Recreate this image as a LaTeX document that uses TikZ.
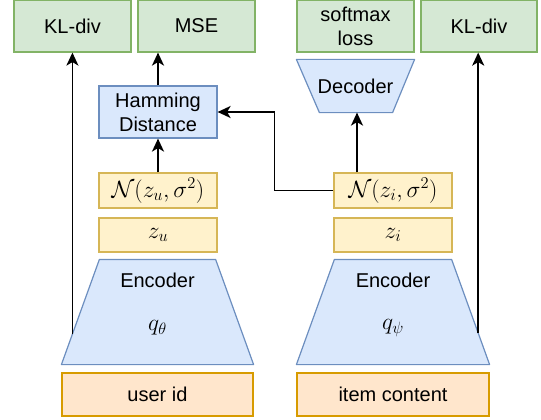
\RequirePackage{fix-cm}
\documentclass[tikz,border=0pt]{standalone}
\usepackage{fontspec}
\setmainfont{Liberation Sans}
\usetikzlibrary{arrows.meta,calc}
\definecolor{gfill}{HTML}{D5E8D4}\definecolor{gdraw}{HTML}{82B366}
\definecolor{bfill}{HTML}{DAE8FC}\definecolor{bdraw}{HTML}{6C8EBF}
\definecolor{yfill}{HTML}{FFF2CC}\definecolor{ydraw}{HTML}{D6B656}
\definecolor{ofill}{HTML}{FFE6CC}\definecolor{odraw}{HTML}{D79B00}
\begin{document}
\begin{tikzpicture}[x=1pt,y=-1pt,
  base/.style={rectangle,inner sep=0pt,line width=1.2pt,align=center,
    font=\fontsize{20}{24}\selectfont},
  loss/.style={base,draw=gdraw,fill=gfill,minimum width=117pt,minimum height=52pt},
  bluebox/.style={base,draw=bdraw,fill=bfill},
  gauss/.style={base,draw=ydraw,fill=yfill,minimum width=118pt,minimum height=35pt,
    font=\fontsize{23.5}{26}\selectfont},
  latent/.style={gauss,minimum height=34pt},
  inbox/.style={base,draw=odraw,fill=ofill,minimum width=192pt,minimum height=43pt},
  ghost/.style={base,minimum width=192pt,minimum height=104pt},
  trap/.style={draw=bdraw,fill=bfill,line width=1.2pt,line join=round},
  lbl/.style={inner sep=0pt,font=\fontsize{20}{24}\selectfont},
  mlbl/.style={inner sep=0pt,font=\fontsize{23.5}{26}\selectfont},
  conn/.style={line width=1.8pt,-{Stealth[length=13pt,width=12pt,inset=3.5pt]}},
  wire/.style={line width=1.8pt}
]
\useasboundingbox (0,0) rectangle (541,420);

% top loss boxes
\node[loss] (kl1) at (72.5,26) {KL-div};
\node[loss] (mse) at (196.5,26) {MSE};
\node[loss] (soft) at (355.5,26) {softmax\\loss};
\node[loss,minimum width=116pt] (kl2) at (479,26) {KL-div};

% hamming
\node[bluebox,minimum width=118pt,minimum height=52pt] (ham) at (158,112) {Hamming\\Distance};

% decoder (inverted trapezoid)
\node[base,minimum width=117pt,minimum height=52pt] (dec) at (355.5,86) {};
\draw[trap] (dec.north west) -- (dec.north east) -- ([xshift=-22pt]dec.south east) -- ([xshift=23pt]dec.south west) -- cycle;
\node[lbl] (dect) at (dec.center) {Decoder};

% gaussians and latents
\node[gauss] (nu) at (158,190.5) {$\mathcal{N}(z_u,\sigma^2)$};
\node[latent] (zu) at (158,235) {$z_u$};
\node[gauss] (ni) at (393,190.5) {$\mathcal{N}(z_i,\sigma^2)$};
\node[latent] (zi) at (393,235) {$z_i$};

% encoders
\node[ghost,minimum width=191pt] (enc1) at (157.5,312) {};
\draw[trap] ([xshift=38pt]enc1.north west) -- ([xshift=-38pt]enc1.north east) -- (enc1.south east) -- (enc1.south west) -- cycle;
\node[lbl] (enc1t) at ($(enc1.center)+(0,-32)$) {Encoder};
\node[mlbl] (enc1q) at ($(enc1.center)+(0,16)$) {$q_\theta$};

\node[ghost] (enc2) at (393,312) {};
\draw[trap] ([xshift=38pt]enc2.north west) -- ([xshift=-38pt]enc2.north east) -- (enc2.south east) -- (enc2.south west) -- cycle;
\node[lbl] (enc2t) at ($(enc2.center)+(0,-32)$) {Encoder};
\node[mlbl] (enc2q) at ($(enc2.center)+(0,16)$) {$q_\psi$};

% inputs
\node[inbox,minimum width=191pt] (user) at (157.5,394.5) {user id};
\node[inbox] (item) at (393,394.5) {item content};

% side points of encoders
\coordinate (e1s) at ($(enc1.south west)!0.29!([xshift=38pt]enc1.north west)$);
\coordinate (e2s) at ($(enc2.south east)!0.30!([xshift=-38pt]enc2.north east)$);

% connectors
\draw[conn] (e1s) -- (e1s |- kl1.south);
\draw[conn] (e2s) -- (e2s |- kl2.south);
\draw[conn] (ham.north) -- (ham.north |- mse.south);
\draw[conn] (nu.north) -- (ham.south);
\draw[conn] ([xshift=1.5pt]dec.south |- ni.north) -- ([xshift=1.5pt]dec.south);
\draw[conn] (ni.west) -- ++(-59,0) |- (ham.east);
\end{tikzpicture}
\end{document}
